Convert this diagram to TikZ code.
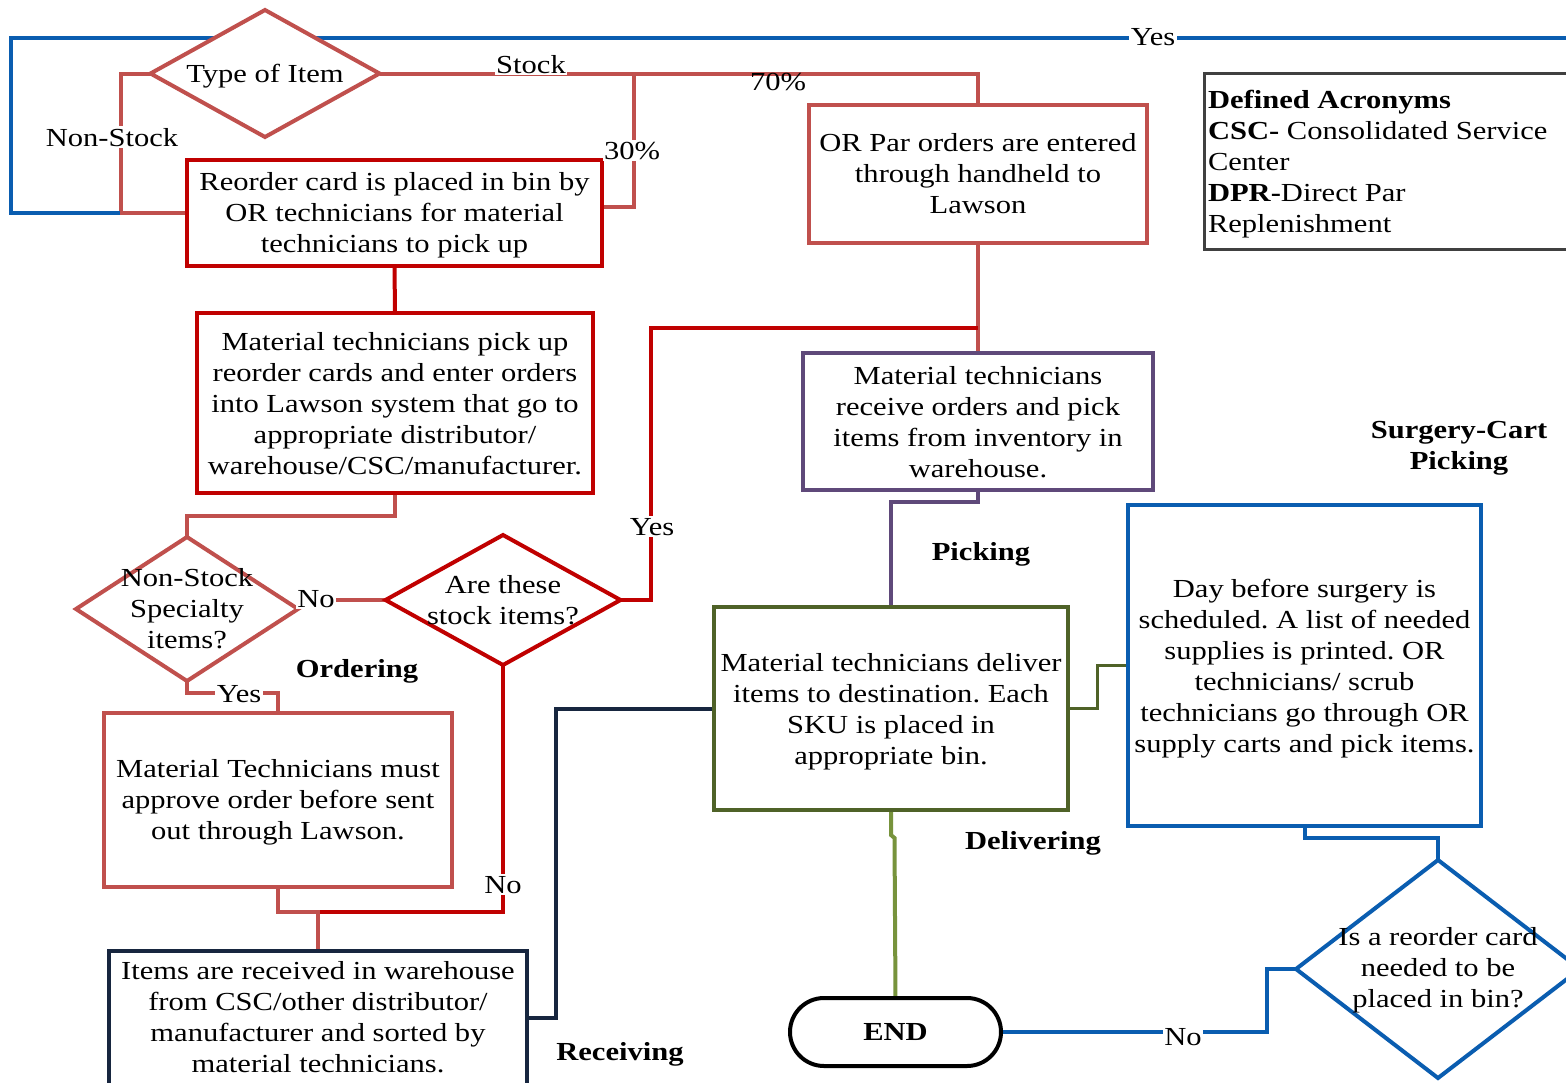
\documentclass[tikz,border=0pt]{standalone}
\usepackage{fontspec}
\setmainfont[FakeStretch=1.175]{Liberation Serif}
\usetikzlibrary{shapes.geometric}
\frenchspacing

\definecolor{lred}{HTML}{C0504D}
\definecolor{dred}{HTML}{C00000}
\definecolor{navy}{HTML}{17263F}
\definecolor{plum}{HTML}{5F497A}
\definecolor{olive}{HTML}{4F6228}
\definecolor{leaf}{HTML}{77933C}
\definecolor{oblue}{HTML}{0A5DB0}
\definecolor{slate}{HTML}{404040}

\pgfdeclarelayer{paper}
\pgfdeclarelayer{wires}
\pgfsetlayers{paper,wires,main}

\begin{document}
\begin{tikzpicture}[x=1pt,y=-1pt,
  every node/.style={font=\fontsize{26}{31}\selectfont, inner sep=0pt, outer sep=0pt},
  box/.style={draw, line width=4pt, fill=white},
  dia/.style={diamond, draw, line width=4pt, fill=white},
  txt/.style={align=center},
  wire/.style={line width=4pt},
  lbl/.style={fill=white, inner sep=1.5pt, anchor=base},
  phase/.style={font=\fontsize{26}{31}\selectfont\bfseries, align=center},
]
\useasboundingbox (0,0) rectangle (1566,1082);
\clip (0,0) rectangle (1566,1082);
\begin{pgfonlayer}{paper}
  \fill[white] (0,0) rectangle (1566,1082);
\end{pgfonlayer}

% ---------- process boxes ----------
\node[box, draw=dred, minimum width=415, minimum height=106] (reorder) at (394.5,213) {};
\node[txt] (reordertxt) at ([yshift=-2pt]reorder.center)
  {Reorder card is placed in bin by\\OR technicians for material\\technicians to pick up};
\node[box, draw=dred, minimum width=396, minimum height=180] (pickup) at (395,403) {};
\node[txt] (pickuptxt) at ([yshift=-0.5pt]pickup.center)
  {Material technicians pick up\\reorder cards and enter orders\\into Lawson system that go to\\appropriate distributor/\\warehouse/CSC/manufacturer.};
\node[box, draw=lred, minimum width=338, minimum height=138] (orpar) at (978,174) {};
\node[txt] (orpartxt) at (orpar.center)
  {OR Par orders are entered\\through handheld to\\Lawson};
\node[box, draw=lred, minimum width=348, minimum height=174] (approve) at (278,800) {};
\node[txt] (approvetxt) at ([yshift=-2pt]approve.center)
  {Material Technicians must\\approve order before sent\\out through Lawson.};
\node[box, draw=navy, minimum width=418, minimum height=134] (recv) at (318,1018) {};
\node[txt] (recvtxt) at ([yshift=1pt]recv.center)
  {Items are received in warehouse\\from CSC/other distributor/\\manufacturer and sorted by\\material technicians.};
\node[box, draw=plum, minimum width=350, minimum height=137] (receive) at (978,421.5) {};
\node[txt] (receivetxt) at ([yshift=-0.5pt]receive.center)
  {Material technicians\\receive orders and pick\\items from inventory in\\warehouse.};
\node[box, draw=olive, minimum width=354, minimum height=203] (deliver) at (891,708.5) {};
\node[txt] (delivertxt) at ([yshift=-3pt]deliver.center)
  {Material technicians deliver\\items to destination. Each\\SKU is placed in\\appropriate bin.};
\node[box, draw=oblue, minimum width=353, minimum height=321] (daybefore) at (1304.5,665.5) {};
\node[txt] (daybeforetxt) at ([yshift=-3pt]daybefore.center)
  {Day before surgery is\\scheduled. A list of needed\\supplies is printed. OR\\technicians/ scrub\\technicians go through OR\\supply carts and pick items.};
\node[box, draw=black, minimum width=211, minimum height=68, rounded corners=34pt,
  font=\fontsize{26}{31}\selectfont\bfseries] (endn) at (895.5,1032) {END};

% ---------- decisions ----------
\node[dia, draw=lred, minimum width=229, minimum height=127] (type) at (265,73.5) {};
\node[txt] (typetxt) at ([yshift=-3pt]type.center) {Type of Item};
\node[dia, draw=lred, minimum width=222, minimum height=144] (ns) at (187,609) {};
\node[txt] (nstxt) at (ns.center) {Non-Stock\\Specialty\\items?};
\node[dia, draw=dred, minimum width=235, minimum height=130] (are) at (503,600) {};
\node[txt] (aretxt) at (are.center) {Are these\\stock items?};
\node[dia, draw=oblue, minimum width=284, minimum height=218] (reord) at (1438,969) {};
\node[txt] (reordtxt) at ([yshift=-1.5pt]reord.center) {Is a reorder card\\needed to be\\placed in bin?};

% ---------- acronym legend ----------
\node[draw=slate, line width=3pt, fill=white, minimum width=396, minimum height=176] (acr) at (1402,161) {};
\node[align=left, anchor=west] (acrtxt) at (1208,164)
  {\textbf{Defined Acronyms}\\\textbf{CSC-} Consolidated Service\\Center\\\textbf{DPR-}Direct Par\\Replenishment};

% ---------- phase captions ----------
\node[phase, anchor=base] (phpick) at (981,560) {Picking};
\node[phase, anchor=base] (phord) at (357,677) {Ordering};
\node[phase, anchor=base] (phdel) at (1033,849) {Delivering};
\node[phase, anchor=base] (phrec) at (620,1060) {Receiving};
\node[phase] (phcart) at (1459,448) {Surgery-Cart\\Picking};

% ---------- junction points ----------
\coordinate (split) at (634,73.5);
\coordinate (jn) at (978,328);
\coordinate (mg) at (318,912);
\coordinate (looptl) at (11,38);
\coordinate (jnb) at (120,213);

% ---------- connectors ----------
\begin{pgfonlayer}{wires}
  \draw[wire, lred] (type.west) -- ++(-30,0) |- (reorder.west);
  \draw[wire, lred] (type.east) -| (orpar.north);
  \draw[wire, lred] (split) |- ([yshift=6pt]reorder.east);
  \draw[wire, lred] (orpar.south) -- (receive.north);
  \draw[wire, dred] (reorder.south) -- (pickup.north);
  \draw[wire, lred] (pickup.south) -- ++(0,23) -| (ns.north);
  \draw[wire, lred] (are.west) -- (ns.east |- are.west);
  \draw[wire, dred] (are.east) -- ++(30,0) |- (jn);
  \draw[wire, dred] (are.south) |- (mg);
  \draw[wire, lred] (approve.south) |- (mg) -- (recv.north);
  \draw[wire, lred] (ns.south) -- ++(0,12) -| (approve.north);
  \draw[wire, navy] (recv.east) -- ++(29,0) |- (deliver.west);
  \draw[wire, plum] (receive.south) -- ++(0,12) -| (deliver.north);
  \draw[wire, olive, line width=3pt] (deliver.east) -- ++(29,0) |- (daybefore.west);
  \draw[wire, leaf] (deliver.south) -- ++(0,25) -- ++(3.5,3) -- (endn.north);
  \draw[wire, oblue] (daybefore.south) -- ++(0,12) -| (reord.north);
  \draw[wire, oblue] (reord.west) -- ++(-29,0) |- (endn.east);
  \draw[wire, oblue] (reord.east) -- ++(20,0) |- (looptl) |- (jnb);
\end{pgfonlayer}

% ---------- connector labels ----------
\node[lbl] (lnonstock) at (112,146) {Non-Stock};
\node[lbl] (lstock) at (531,73) {Stock};
\node[anchor=base] (l70) at (778,90) {70\%};
\node[lbl] (l30) at (632,159) {30\%};
\node[lbl] (lyestop) at (1153,45) {Yes};
\node[lbl] (lno1) at (316,607) {No};
\node[lbl] (lyes1) at (652,535) {Yes};
\node[lbl] (lyes2) at (239,702) {Yes};
\node[lbl] (lno2) at (503,893) {No};
\node[lbl] (lno3) at (1183,1045) {No};
\end{tikzpicture}
\end{document}
